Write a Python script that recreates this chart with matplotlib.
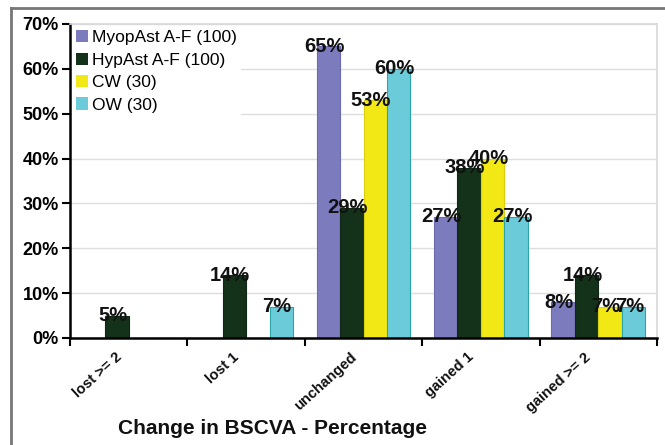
import matplotlib
matplotlib.use("Agg")
import matplotlib.pyplot as plt
from matplotlib.lines import Line2D
from matplotlib.patches import Patch
import numpy as np

plt.rcParams['font.family'] = ['Liberation Sans', 'DejaVu Sans']

categories = ["lost >= 2", "lost 1", "unchanged", "gained 1", "gained >= 2"]
series_names = ["MyopAst A-F (100)", "HypAst A-F (100)", "CW (30)", "OW (30)"]
myopast = [0, 0, 65, 27, 8]
hypast = [5, 14, 29, 38, 14]
cw = [0, 0, 53, 40, 7]
ow = [0, 7, 60, 27, 7]
y_ticks = [0, 10, 20, 30, 40, 50, 60, 70]

series = [myopast, hypast, cw, ow]
colors = ["#7b7bbd", "#14321a", "#f1e815", "#6ccbd9"]
edges = ["#6a6aae", "#0f2714", "#d9cf10", "#2aa5a8"]

fig = plt.figure(figsize=(6.65, 4.45), dpi=100)
ax = fig.add_axes([70 / 665, 1 - 338 / 445, (657 - 70) / 665, (338 - 24) / 445])

x = np.arange(len(categories))
w = 0.2
for i, (vals, c, ec) in enumerate(zip(series, colors, edges)):
    xs = x + (i - 1.5) * w
    ax.bar(xs, vals, width=w, color=c, edgecolor=ec, linewidth=0.8, zorder=2)
    for xi, v in zip(xs, vals):
        if v > 0:
            ax.annotate(f"{v}%", (xi, v), xytext=(-3, 0), textcoords="offset points",
                        ha="center", va="center", fontsize=14.5, fontweight="bold",
                        color="#111111", zorder=5)

ax.set_xlim(-0.5, len(categories) - 0.5)
ax.set_ylim(0, 70)
ax.set_yticks(y_ticks)
ax.set_yticklabels([f"{t}%" for t in y_ticks], fontsize=13, fontweight="bold")
ax.yaxis.grid(True, color="#dedede", linewidth=1, zorder=0)
ax.set_axisbelow(True)

# boundary ticks between categories, category names set diagonally below
ax.set_xticks(np.arange(len(categories) + 1) - 0.5)
ax.set_xticklabels([])
for xi, name in zip(x, categories):
    ax.annotate(name, (xi, 0), xycoords=ax.get_xaxis_transform(),
                xytext=(-10, -8.6), textcoords="offset points",
                rotation=42, ha="right", va="top", rotation_mode="anchor",
                fontsize=10.6, fontweight="bold", color="#111111",
                annotation_clip=False)
ax.tick_params(axis="x", which="major", length=6, width=1.5, color="black")
ax.tick_params(axis="y", length=6, width=1.5, color="black", pad=2)

for s in ["left", "bottom"]:
    ax.spines[s].set_linewidth(1.8)
    ax.spines[s].set_color("black")
for s in ["top", "right"]:
    ax.spines[s].set_color("#d8d8d8")
    ax.spines[s].set_linewidth(1.2)

handles = [Patch(facecolor=c, edgecolor="none") for c in colors]
leg = ax.legend(handles, series_names, loc="upper left", bbox_to_anchor=(0.0, 1.0),
                frameon=True, fontsize=12.5, handlelength=0.7, handleheight=0.7,
                handletextpad=0.2, labelspacing=0.42, borderaxespad=0.1,
                borderpad=0.25)
leg.get_frame().set_facecolor("white")
leg.get_frame().set_edgecolor("none")
leg.get_frame().set_alpha(1.0)

fig.text(272 / 665, 1 - 428 / 445, "Change in BSCVA - Percentage", ha="center", va="center",
         fontsize=15, fontweight="bold", color="#111111")

# outer frame
fig.add_artist(Line2D([10.5 / 665, 10.5 / 665], [0, 1 - 7.5 / 445], transform=fig.transFigure,
                      color="#777777", linewidth=2))
fig.add_artist(Line2D([10.5 / 665, 1], [1 - 7.5 / 445, 1 - 7.5 / 445], transform=fig.transFigure,
                      color="#777777", linewidth=2))

fig.savefig("out.png", dpi=100)
